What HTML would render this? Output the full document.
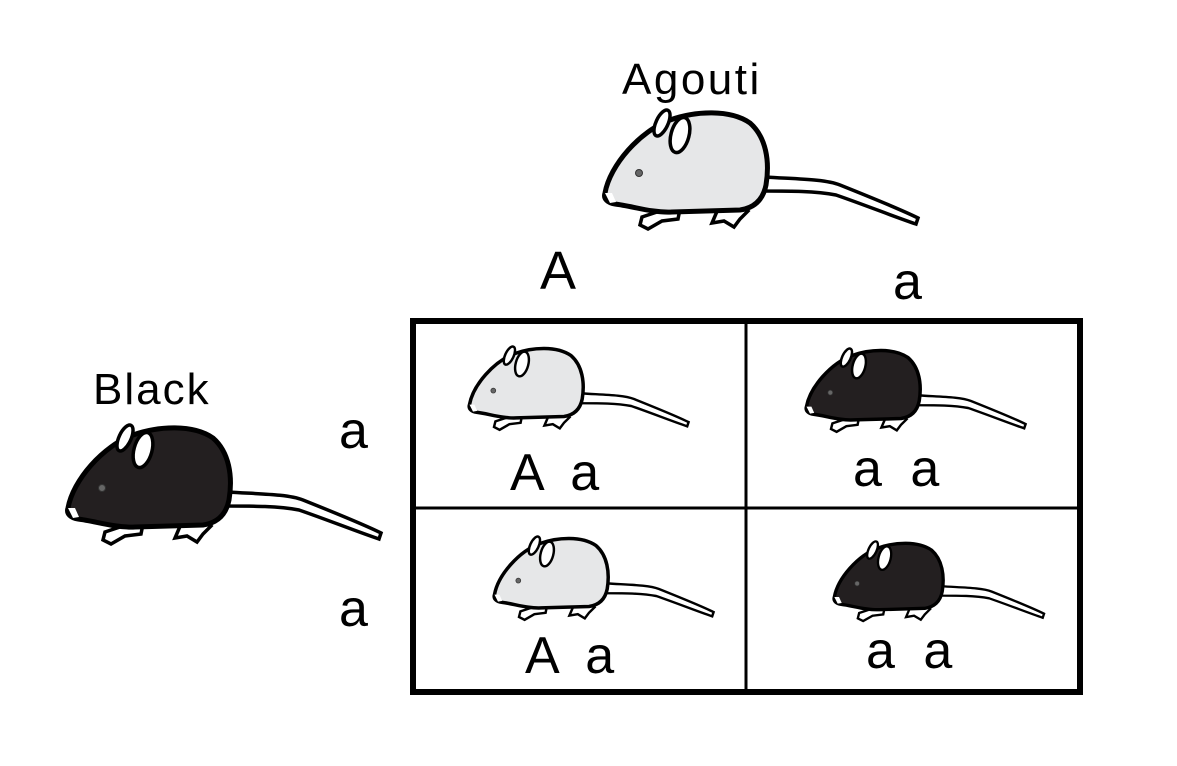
<!DOCTYPE html>
<html><head><meta charset="utf-8"><style>
html,body{margin:0;padding:0;background:#fff}
svg{display:block}
text{font-family:"Liberation Sans",sans-serif;fill:#000}
</style></head><body>
<svg width="1177" height="766" viewBox="0 0 1177 766" xmlns="http://www.w3.org/2000/svg">
<defs>
<g id="m">
  <path d="M165,72 C195,74 225,74 240,80 C270,92 300,104 318,113 L316,119 C295,112 265,100 236,90 C215,86 190,86 165,86 Z" fill="#fff" stroke="#000" stroke-width="3.5"/>
  <path d="M42,112 L60,106 L80,104 L78,114 L62,116 L48,124 L40,120 Z" fill="#fff" stroke="#000" stroke-width="3.5"/>
  <path d="M118,104 L140,98 L148,106 L140,114 L134,122 L124,116 L112,118 Z" fill="#fff" stroke="#000" stroke-width="3.5"/>
  <path d="M5,88 C10,60 40,26 70,15 C95,6 130,4 150,18 C166,32 170,56 166,80 C163,95 154,103 140,105 L72,107 C52,108 32,101 15,99 C8,98 3,94 5,88 Z" stroke="#000" stroke-width="5"/>
  <path d="M5,88 L10,98 L16,97 L12,88 Z" fill="#fff"/>
  <ellipse cx="62" cy="18" rx="6" ry="14" transform="rotate(25 62 18)" fill="#fff" stroke="#000" stroke-width="3.5"/>
  <ellipse cx="80" cy="30" rx="9" ry="18" transform="rotate(15 80 30)" fill="#fff" stroke="#000" stroke-width="3.5"/>
  <circle cx="39" cy="68" r="3.5" fill="#666" stroke="#333" stroke-width="1"/>
</g>
</defs>
<use href="#m" transform="translate(600,105)" fill="#e6e7e8"/>
<use href="#m" transform="translate(63,420)" fill="#231f20"/>
<use href="#m" transform="translate(466,343) scale(0.7)" fill="#e6e7e8"/>
<use href="#m" transform="translate(803,345) scale(0.7)" fill="#231f20"/>
<use href="#m" transform="translate(491,533) scale(0.7)" fill="#e6e7e8"/>
<use href="#m" transform="translate(831,538) scale(0.67)" fill="#231f20"/>

<text x="622" y="94" font-size="44" letter-spacing="2.5">Agouti</text>
<text x="93" y="404" font-size="44" letter-spacing="2">Black</text>
<text x="540" y="289" font-size="54">A</text>
<text x="893" y="299" font-size="52">a</text>
<text x="339" y="448" font-size="52">a</text>
<text x="339" y="626" font-size="52">a</text>

<rect x="413" y="321" width="667" height="371" fill="none" stroke="#000" stroke-width="6"/>
<line x1="746" y1="321" x2="746" y2="692" stroke="#000" stroke-width="3"/>
<line x1="413" y1="508" x2="1080" y2="508" stroke="#000" stroke-width="3"/>

<text x="510" y="490" font-size="52" word-spacing="14">A a</text>
<text x="853" y="486" font-size="52" word-spacing="14">a a</text>
<text x="525" y="673" font-size="52" word-spacing="14">A a</text>
<text x="866" y="668" font-size="52" word-spacing="14">a a</text>
</svg>
</body></html>
